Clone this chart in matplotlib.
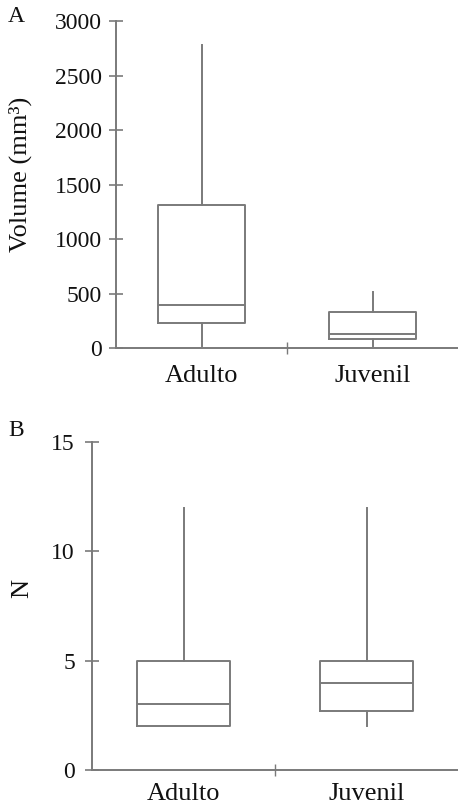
import matplotlib
matplotlib.use("Agg")
import matplotlib.pyplot as plt

plt.rcParams['font.family'] = ['Liberation Serif', 'DejaVu Serif']

groups = ["Adulto", "Juvenil"]

# panel A: volume (mm3)
vol_whislo = [15, 15]
vol_q1 = [227, 80]
vol_med = [390, 128]
vol_q3 = [1315, 333]
vol_whishi = [2780, 510]

# panel B: N
n_whislo = [2, 2]
n_q1 = [2, 2.7]
n_med = [3, 4]
n_q3 = [5, 5]
n_whishi = [12, 12]

gray = "#7a7a7a"
ink = "#111111"


def stats(lo, q1, med, q3, hi):
    return [dict(whislo=lo[i], q1=q1[i], med=med[i], q3=q3[i], whishi=hi[i],
                 fliers=[], label=groups[i]) for i in range(len(groups))]


def draw(ax, st, ylim, yticks, ylabel, label_xy, xpad, ypad):
    lp = dict(color=gray, linewidth=1.4)
    ax.bxp(st, positions=[0.5, 1.5], widths=0.51, showcaps=False,
           showfliers=False, boxprops=lp, whiskerprops=lp, medianprops=lp)
    ax.set_xlim(0, 2)
    ax.set_ylim(*ylim)
    ax.set_yticks(yticks)
    ax.set_yticklabels([str(t) for t in yticks], fontsize=17, color=ink)
    ax.set_xticks([1])
    ax.set_xticklabels([""])
    ax.set_xticks([0.5, 1.5], minor=True)
    ax.set_xticklabels(groups, minor=True, fontsize=19, color=ink)
    ax.tick_params(axis="x", which="minor", length=0, pad=xpad)
    ax.tick_params(axis="x", which="major", direction="inout", length=8.5,
                   width=1, color=gray)
    ax.tick_params(axis="y", direction="inout", length=10.5, width=1.2,
                   color=gray, pad=ypad)
    for s in ["top", "right"]:
        ax.spines[s].set_visible(False)
    for s in ["left", "bottom"]:
        ax.spines[s].set_color(gray)
        ax.spines[s].set_linewidth(1.4)
    ax.set_ylabel(ylabel, fontsize=19, color=ink)
    ax.yaxis.set_label_coords(*label_xy)


fig = plt.figure(figsize=(4.58, 8.09), dpi=100)
axA = fig.add_axes([116 / 458, 1 - 348 / 809, 342 / 458, 327 / 809])
axB = fig.add_axes([92 / 458, 1 - 770 / 809, 366 / 458, 328 / 809])

draw(axA, stats(vol_whislo, vol_q1, vol_med, vol_q3, vol_whishi),
     (0, 3000), [0, 500, 1000, 1500, 2000, 2500, 3000], "Volume (mm³)",
     (-0.246, 0.532), 12, 5)
draw(axB, stats(n_whislo, n_q1, n_med, n_q3, n_whishi),
     (0, 15), [0, 5, 10, 15], "N", (-0.161, 0.555), 9.5, 7)

fig.text(8 / 458, 1 - 16.5 / 809, "A", fontsize=17, va="center", color=ink)
fig.text(8 / 458, 1 - 430 / 809, "B", fontsize=17, va="center", color=ink)

fig.savefig("out.png", dpi=100)
